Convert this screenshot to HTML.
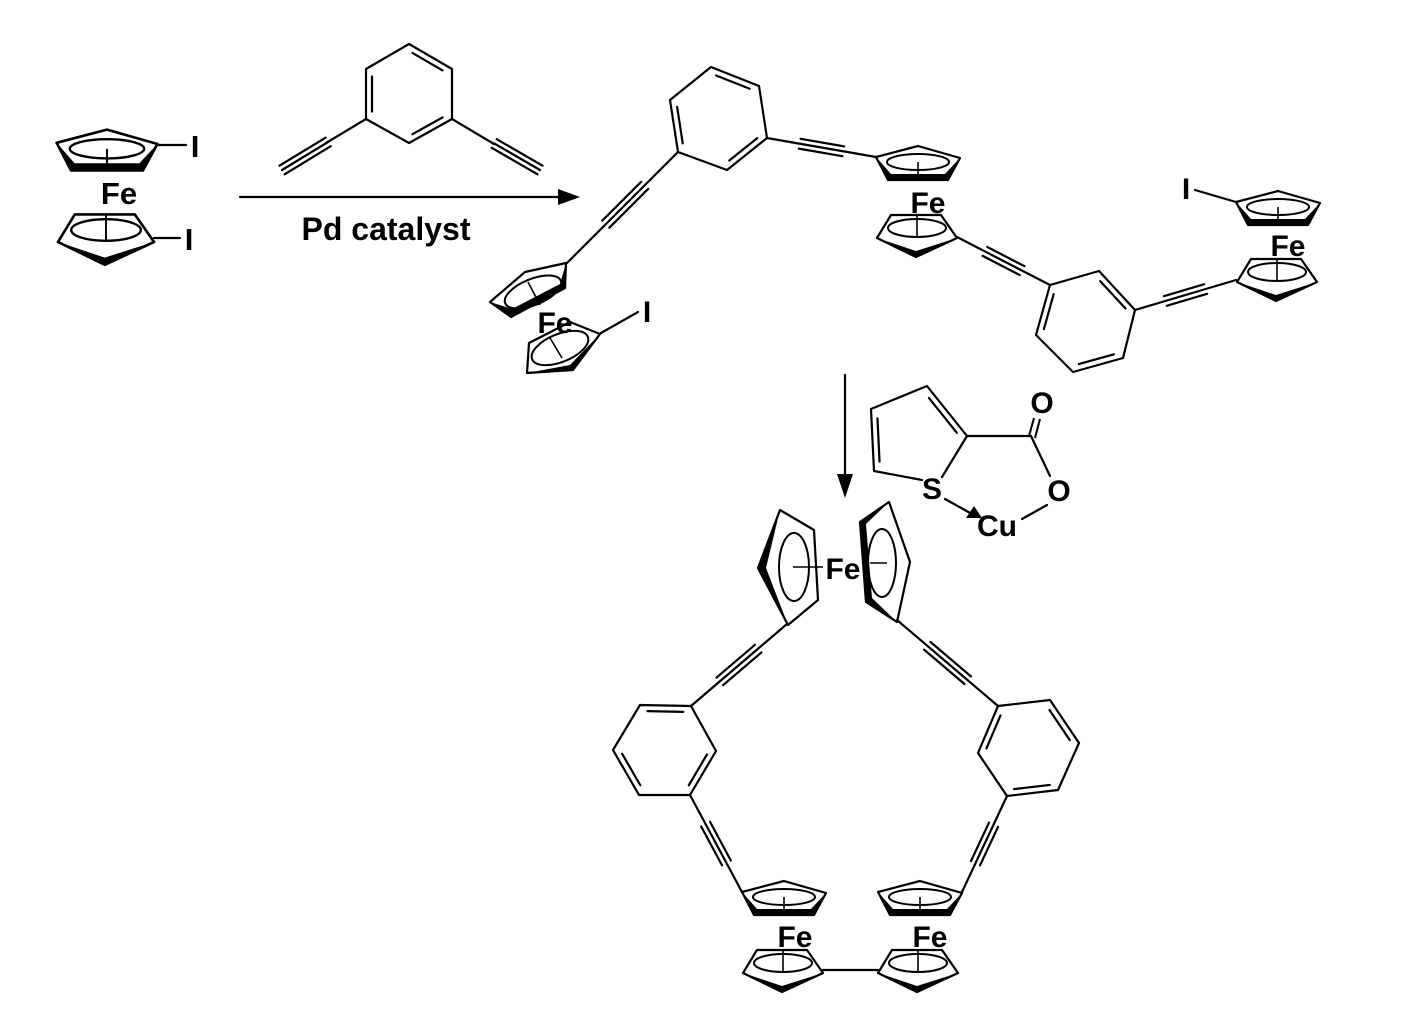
<!DOCTYPE html>
<html><head><meta charset="utf-8"><style>
html,body{margin:0;padding:0;background:#fff;}
svg{display:block;}
text{font-family:"Liberation Sans",Arial,sans-serif;font-weight:bold;fill:#000;text-anchor:middle;}
</style></head><body>
<svg id="s" width="1428" height="1030" viewBox="0 0 1428 1030" xmlns="http://www.w3.org/2000/svg">
<defs>
<g id="T">
<polygon points="-42,-6 0,-17 42,-5 30,17 -30,17" fill="none" stroke="#000" stroke-width="2.2" stroke-linejoin="round"/>
<polygon points="-42,-6 -30,17 30,17 42,-5 27,11 -27,11" fill="#000"/>
<ellipse cx="0" cy="-1" rx="31" ry="8" fill="none" stroke="#000" stroke-width="2"/>
<line x1="0" y1="-1" x2="0" y2="14" stroke="#000" stroke-width="1.6"/>
</g>
<g id="B">
<polygon points="-40,5 -26,-18 24,-18 40,5 -1,24" fill="none" stroke="#000" stroke-width="2.2" stroke-linejoin="round"/>
<polygon points="-40,5 -1,24 40,5 -1,18" fill="#000"/>
<ellipse cx="0" cy="-5" rx="29" ry="9" fill="none" stroke="#000" stroke-width="2"/>
<line x1="0" y1="-18" x2="0" y2="4" stroke="#000" stroke-width="1.6"/>
</g>
</defs>
<g id="bonds" stroke="#000" stroke-width="2.2" fill="none" stroke-linecap="round" stroke-linejoin="round">
<polygon points="409,44 452,69 452,119 409,143 366,119 366,69"/>
<line x1="240" y1="197" x2="560" y2="197"/>
<polygon points="711,67 759,86 767,138 727,170 678,152 670,100"/>
<polygon points="1050,285 1099,271 1135,310 1123,358 1073,372 1036,335"/>
<polygon points="640,705 691,706 716,751 690,795 639,795 613,750"/>
<polygon points="998,706 1050,700 1079,743 1058,790 1007,796 978,753"/>
<line x1="158" y1="145" x2="186" y2="145"/>
<line x1="154" y1="238" x2="180" y2="238"/>
<line x1="601" y1="333" x2="638" y2="312"/>
<line x1="1195" y1="190" x2="1236" y2="202"/>
<line x1="823" y1="970" x2="878" y2="970"/>
<line x1="845" y1="375" x2="845" y2="480"/>
<polyline points="922,480 874,471 871,409 927,386 967,436 942,477"/>
<line x1="967" y1="436" x2="1031" y2="436"/>
<line x1="1031" y1="436" x2="1050" y2="476"/>
<line x1="1047" y1="505" x2="1022" y2="519"/>
<line x1="945" y1="499" x2="972" y2="514"/>
</g>
<polygon points="580,197 558,189 558,205" fill="#000"/>
<polygon points="845,498 837,474 853,474" fill="#000"/>
<polygon points="982,518 966,518 974,506" fill="#000"/>
<line x1="1029" y1="436" x2="1034" y2="418" stroke="#000" stroke-width="2"/>
<line x1="1035" y1="438" x2="1040" y2="419" stroke="#000" stroke-width="2"/>

<use href="#T" transform="translate(107,150) scale(1.2)"/>
<use href="#B" transform="translate(106,236) scale(1.2)"/>
<use href="#T" transform="translate(918,163)"/>
<use href="#B" transform="translate(917,233)"/>
<use href="#T" transform="translate(1278,208)"/>
<use href="#B" transform="translate(1277,277)"/>
<use href="#T" transform="translate(784,898)"/>
<use href="#B" transform="translate(783,968)"/>
<use href="#T" transform="translate(920,898)"/>
<use href="#B" transform="translate(918,968)"/>

<g stroke="#000" stroke-width="2.2" fill="none" stroke-linejoin="round">
<polygon points="566,263 525,272 490,302 511,317 565,288"/>
<ellipse cx="533" cy="292" rx="30" ry="13" transform="rotate(-22 533 292)" stroke-width="2"/>
<polygon points="527,373 529,343 570,322 600,334 573,370"/>
<ellipse cx="560" cy="348" rx="30" ry="14" transform="rotate(-22 560 348)" stroke-width="2"/>
<line x1="528" y1="282" x2="540" y2="305" stroke-width="1.6"/>
<line x1="550" y1="338" x2="562" y2="358" stroke-width="1.6"/>
</g>
<polygon points="566,263 565,288 511,317 490,302 512,309 560,284" fill="#000"/>
<polygon points="600,334 573,370 527,373 570,365" fill="#000"/>

<g stroke="#000" stroke-width="2.2" fill="none" stroke-linejoin="round">
<polygon points="780,510 814,530 818,600 788,625 758,568"/>
<ellipse cx="794" cy="567" rx="15" ry="34" stroke-width="2"/>
<line x1="793" y1="567" x2="823" y2="567" stroke-width="1.6"/>
<polygon points="889,502 860,522 866,602 897,622 910,562"/>
<ellipse cx="882" cy="563" rx="14" ry="34" stroke-width="2"/>
<line x1="870" y1="563" x2="887" y2="563" stroke-width="1.6"/>
</g>
<polygon points="780,510 758,568 788,625 766,568" fill="#000"/>
<polygon points="889,502 860,522 866,602 897,622 872,598 866,524" fill="#000"/>

<text x="119" y="204" font-size="31">Fe</text>
<text x="195" y="157" font-size="31">I</text>
<text x="189" y="250" font-size="31">I</text>
<text x="386" y="240" font-size="32">Pd catalyst</text>
<text x="555" y="333" font-size="30">Fe</text>
<text x="647" y="322" font-size="30">I</text>
<text x="928" y="213" font-size="30">Fe</text>
<text x="1186" y="199" font-size="30">I</text>
<text x="1288" y="256" font-size="30">Fe</text>
<text x="843" y="579" font-size="30">Fe</text>
<text x="795" y="947" font-size="30">Fe</text>
<text x="930" y="947" font-size="30">Fe</text>
<text x="1042" y="413" font-size="30">O</text>
<text x="1059" y="501" font-size="30">O</text>
<text x="932" y="499" font-size="30">S</text>
<text x="997" y="536" font-size="30">Cu</text>
</svg>
<script>
(function(){
var s=document.getElementById('bonds');var NS='http://www.w3.org/2000/svg';
function L(a,b,c,d){var l=document.createElementNS(NS,'line');l.setAttribute('x1',a);l.setAttribute('y1',b);l.setAttribute('x2',c);l.setAttribute('y2',d);s.appendChild(l);}
function tri(ax,ay,bx,by,t0,t1,full){var dx=bx-ax,dy=by-ay,len=Math.hypot(dx,dy),nx=-dy/len*5,ny=dx/len*5;
if(full)L(ax,ay,bx,by);
var p0x=ax+dx*t0,p0y=ay+dy*t0,p1x=ax+dx*t1,p1y=ay+dy*t1;
L(p0x+nx,p0y+ny,p1x+nx,p1y+ny);L(p0x-nx,p0y-ny,p1x-nx,p1y-ny);
if(!full)L(p0x,p0y,p1x,p1y);}
L(366,119,326,143);tri(366,119,282,170,0.45,1,false);
L(452,119,494,144);tri(452,119,540,170,0.48,1,false);
tri(678,152,567,263,0.3,0.65,true);
tri(767,138,876,157,0.3,0.7,true);
tri(957,237,1050,285,0.3,0.7,true);
tri(1135,310,1236,280,0.3,0.7,true);
tri(691,706,787,624,0.3,0.7,true);
tri(897,620,998,706,0.3,0.7,true);
tri(690,795,742,892,0.3,0.7,true);
tri(1007,796,962,892,0.3,0.7,true);
function dbl(ax,ay,bx,by,cx,cy){var mx=(ax+bx)/2,my=(ay+by)/2,vx=cx-mx,vy=cy-my,vl=Math.hypot(vx,vy);vx=vx/vl*6;vy=vy/vl*6;
var dx=bx-ax,dy=by-ay;L(ax+dx*.15+vx,ay+dy*.15+vy,ax+dx*.85+vx,ay+dy*.85+vy);}
var c1=[409,94];dbl(409,44,452,69,c1[0],c1[1]);dbl(366,69,366,119,c1[0],c1[1]);dbl(452,119,409,143,c1[0],c1[1]);
var c2=[719,119];dbl(711,67,759,86,c2[0],c2[1]);dbl(670,100,678,152,c2[0],c2[1]);dbl(767,138,727,170,c2[0],c2[1]);
var c3=[1086,322];dbl(1099,271,1135,310,c3[0],c3[1]);dbl(1036,335,1050,285,c3[0],c3[1]);dbl(1123,358,1073,372,c3[0],c3[1]);
var c4=[665,750];dbl(640,705,691,706,c4[0],c4[1]);dbl(613,750,639,795,c4[0],c4[1]);dbl(716,751,690,795,c4[0],c4[1]);
var c5=[1028,748];dbl(1050,700,1079,743,c5[0],c5[1]);dbl(1058,790,1007,796,c5[0],c5[1]);dbl(978,753,998,706,c5[0],c5[1]);
var c6=[920,440];dbl(927,386,967,436,c6[0],c6[1]);dbl(871,409,874,471,c6[0],c6[1]);
})();
</script>
</body></html>
